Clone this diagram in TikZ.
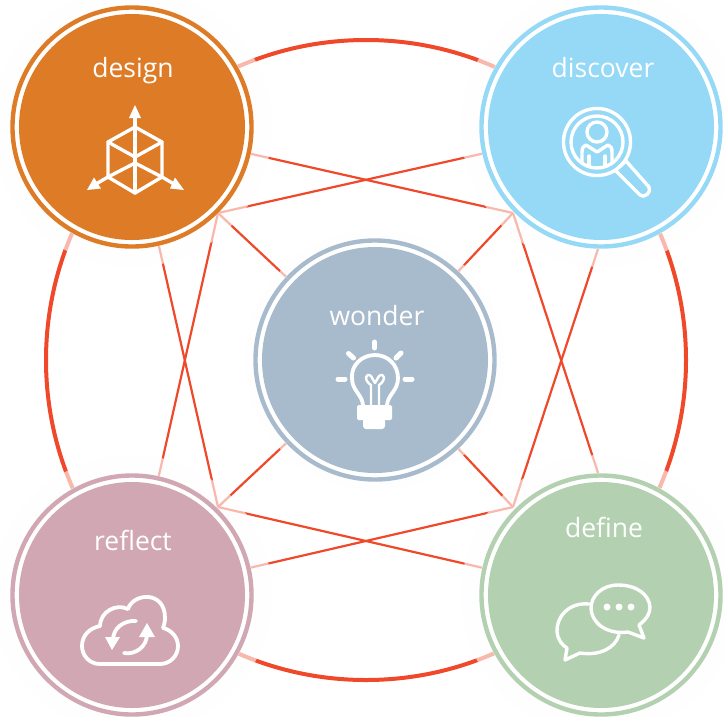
\documentclass[tikz,border=0pt]{standalone}
\usepackage{fontspec}
\setmainfont{Open Sans}
\usetikzlibrary{backgrounds,arrows.meta}
\definecolor{cred}{HTML}{F0482A}
\definecolor{cdesign}{HTML}{DE7B26}
\definecolor{cdiscover}{HTML}{95D9F7}
\definecolor{cwonder}{HTML}{A8BBCD}
\definecolor{creflect}{HTML}{D1A7B3}
\definecolor{cdefine}{HTML}{B3D0B0}
\definecolor{chalo}{HTML}{FDFDFD}
\tikzset{
  x=1pt,y=-1pt,
  disc/.style={circle,inner sep=0pt,minimum size=226pt,fill=#1,draw=none,outer sep=0pt},
  halo/.style={circle,inner sep=0pt,minimum size=280pt,fill=chalo,fill opacity=.62,draw=none},
  wire/.style={draw=cred,line width=2.2pt},
  bigring/.style={circle,inner sep=0pt,minimum size=640pt,draw=cred,line width=4pt},
  ringc/.style={draw=#1,line width=4.4pt},
  ico/.style={draw=white,line width=3.4pt,line cap=round,line join=round},
  lab/.style={text=white,font=\fontsize{26.5}{30}\selectfont,inner sep=0pt,anchor=base},
}
\begin{document}
\begin{tikzpicture}
\useasboundingbox (0,0) rectangle (725,716);
% halos
\node[halo] (hdesign) at (132,127) {};
\node[halo] (hdiscover) at (601,127) {};
\node[halo,minimum size=260pt] (hwonder) at (375,360) {};
\node[halo] (hreflect) at (132,595) {};
\node[halo] (hdefine) at (601,595) {};
% discs
\foreach \n/\p/\c in {design/{132,127}/cdesign,discover/{601,127}/cdiscover,wonder/{375,360}/cwonder,reflect/{132,595}/creflect,define/{601,595}/cdefine}{
  \fill[white] (\p) circle[radius=122];
  \draw[ringc=\c] (\p) circle[radius=119.5];
}
\node[disc=cdesign] (design) at (132,127) {};
\node[disc=cdiscover] (discover) at (601,127) {};
\node[disc=cwonder] (wonder) at (375,360) {};
\node[disc=creflect] (reflect) at (132,595) {};
\node[disc=cdefine] (define) at (601,595) {};
% junctions
\coordinate (ja) at (218,213);
\coordinate (jb) at (513,213);
\coordinate (jc) at (218,507);
\coordinate (jd) at (513,507);
\begin{scope}[on background layer]
\node[bigring] (big) at (366,360) {};
\draw[wire] (ja) -- (discover);
\draw[wire] (ja) -- (reflect);
\draw[wire] (ja) -- (wonder);
\draw[wire] (jb) -- (design);
\draw[wire] (jb) -- (define.north);
\draw[wire] (jb) -- (wonder);
\draw[wire] (jc) -- (design);
\draw[wire] (jc) -- (define);
\draw[wire] (jc) -- (wonder);
\draw[wire] (jd) -- (discover.south);
\draw[wire] (jd) -- (reflect);
\draw[wire] (jd) -- (wonder);
\end{scope}
% labels
\node[lab] (tdesign) at (133,77) {design};
\node[lab] (tdiscover) at (603,77) {discover};
\node[lab] (twonder) at (377,325) {wonder};
\node[lab] (treflect) at (133,550) {reflect};
\node[lab] (tdefine) at (604,537) {define};
% cube icon
\begin{scope}[ico]
\draw (135,114) -- (135,193);
\draw (135,127) -- (108,142) -- (108,177) -- (135,193) -- (162,177) -- (162,142) -- cycle;
\draw (108,142) -- (135,157) -- (162,142);
\draw (108,177) -- (135,163) -- (162,177);
\draw (108,177) -- (96,184);
\draw (162,177) -- (174,184);
\end{scope}
\fill[white] (135,105) -- (141,118) -- (129,118) -- cycle;
\fill[white] (87,190) -- (94,177.5) -- (101,188.5) -- cycle;
\fill[white] (184,190) -- (175,177.5) -- (170,188.5) -- cycle;
% magnifier icon
\begin{scope}[ico]
\draw (597,142) circle[radius=33.5];
\draw (597,142) circle[radius=26];
\draw (597,132) circle[radius=10];
\draw (582,163) -- (582,152) .. controls (582,147) and (584,146) .. (586,145) -- (597,152) -- (608,145) .. controls (611,146) and (612,148) .. (612,152) -- (612,163);
\draw (589,165) -- (589,156);
\draw (605,165) -- (605,156);
\draw (615,170) -- (640,195) .. controls (644,199) and (652,192) .. (649,187) -- (626,161);
\draw (618,168) -- (626,161);
\end{scope}
% bulb icon
\begin{scope}[ico,line width=3.8pt]
\draw (363,405) .. controls (362,394) and (352,391) .. (352,378) .. controls (351,365) and (362,355) .. (375,355) .. controls (388,355) and (398,365) .. (398,378) .. controls (398,391) and (388,394) .. (387,405);
\draw[line width=2.4pt] (371,405) -- (371,385) .. controls (363,380) and (366,372) .. (371,376) -- (375,383) -- (379,376) .. controls (384,372) and (387,380) .. (379,385) -- (379,405);
\draw[line width=5pt] (338,379) -- (345,379);
\draw[line width=5pt] (405,379) -- (412,379);
\draw[line width=5pt] (348.5,353.5) -- (353.5,358);
\draw[line width=5pt] (401,353) -- (396,358);
\draw[line width=5pt] (374.5,342) -- (374.5,348);
\end{scope}
\fill[white,rounded corners=1.5pt] (357,405) rectangle (392,420);
\fill[white,rounded corners=3pt] (363,418) rectangle (385,429);
% cloud icon
\begin{scope}[ico,line width=3.8pt]
\draw (100,664) .. controls (89,664) and (82,655) .. (82,646) .. controls (82,635) and (90,628) .. (100,626) .. controls (100,612) and (116,603) .. (128,609) .. controls (133,593) and (165,590) .. (165,618) .. controls (165,622) and (164,625) .. (163,628) .. controls (172,630) and (178,638) .. (178,646) .. controls (178,656) and (170,664) .. (160,664) -- cycle;
\draw (113,640) .. controls (113,628) and (124,620) .. (136,621);
\draw (147,634) .. controls (147,647) and (135,655) .. (124,653);
\end{scope}
\fill[white] (105,637) -- (120,637) -- (112,650) -- cycle;
\fill[white] (139,637) -- (155,637) -- (147,623) -- cycle;
% chat icon
\begin{scope}[ico]
\draw (589,604) .. controls (568,602) and (556,618) .. (557,632) .. controls (558,640) and (562,645) .. (567,648) -- (565,660) -- (580,653) .. controls (600,656) and (615,648) .. (619,635);
\draw (618,585) .. controls (602,585) and (591,596) .. (591,608) .. controls (591,622) and (606,635) .. (628,632) -- (644,638) -- (639,625) .. controls (647,619) and (650,613) .. (650,607) .. controls (649,594) and (636,585) .. (618,585) -- cycle;
\end{scope}
\fill[white] (607,607) circle[radius=3.5];
\fill[white] (619,607) circle[radius=3.5];
\fill[white] (631,607) circle[radius=3.5];
\end{tikzpicture}
\end{document}
